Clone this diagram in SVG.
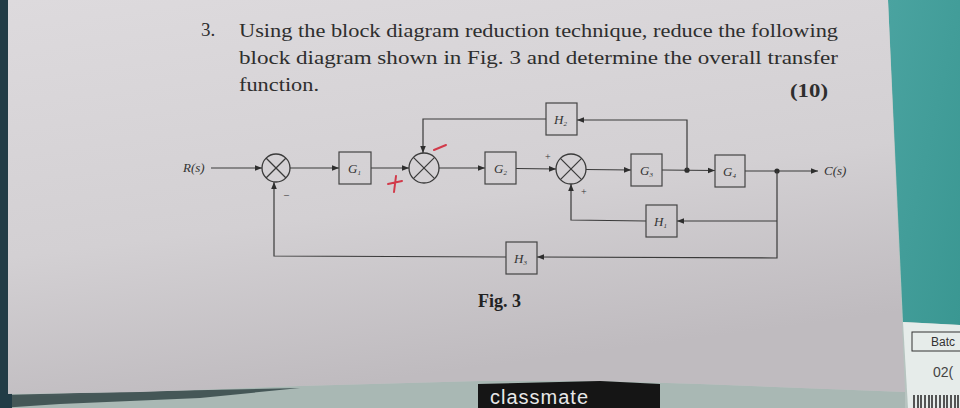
<svg xmlns="http://www.w3.org/2000/svg" width="960" height="408" viewBox="0 0 960 408">
<defs>
<linearGradient id="paper" x1="0" y1="0" x2="0.3" y2="1">
<stop offset="0" stop-color="#dddadd"/>
<stop offset="0.6" stop-color="#d3d0d3"/>
<stop offset="1" stop-color="#bfbbbf"/>
</linearGradient>
<linearGradient id="teal" x1="0" y1="0" x2="1" y2="1">
<stop offset="0" stop-color="#4aa3a0"/>
<stop offset="1" stop-color="#3a9792"/>
</linearGradient>
<marker id="ah" viewBox="0 0 10 10" refX="10" refY="5" markerWidth="7" markerHeight="7" orient="auto" markerUnits="userSpaceOnUse">
<path d="M0,1 L10,5 L0,9 z" fill="#2e2e2e"/>
</marker>
<style>
.ln{fill:none;stroke:#3a3a3a;stroke-width:1.2}
.blk{fill:none;stroke:#444;stroke-width:1.2}
.sum circle{fill:none;stroke:#3a3a3a;stroke-width:1.3}
.sum line{stroke:#3a3a3a;stroke-width:1.2}
.lbl{font-family:"Liberation Serif",serif;font-style:italic;font-size:13px;fill:#333}
.sub{font-size:7px}
.q{font-family:"Liberation Serif",serif;font-size:19px;fill:#2e2e2e}
.sg{font-family:"Liberation Serif",serif;font-size:10px;fill:#333}
.red{stroke:#d23a4a;stroke-width:2;fill:none;stroke-linecap:round}
</style>
</defs>

<!-- background scene -->
<rect x="0" y="0" width="960" height="408" fill="#b7c4c0"/>
<polygon points="0,395 60,396 140,392 300,386 480,381 600,381 700,384 905,392 905,408 0,408" fill="#a9b8b4"/>
<polygon points="0,395 160,391 300,388 200,398 60,404 0,408" fill="#2c3e40" opacity="0.8"/>
<rect x="0" y="0" width="12" height="408" fill="#223c46"/>
<polygon points="888,0 960,0 960,325 903,322" fill="url(#teal)"/>
<polygon points="903,322 960,325 960,408 908,408" fill="#e6ecea"/>
<rect x="912" y="332" width="52" height="19" fill="none" stroke="#333" stroke-width="1"/>
<text x="931" y="346" font-family="Liberation Sans, sans-serif" font-size="12" fill="#333">Batc</text>
<text x="933" y="377" font-family="Liberation Sans, sans-serif" font-size="14" fill="#444">02(</text>
<g stroke="#222" stroke-width="1.5">
<line x1="914" y1="395" x2="914" y2="408"/><line x1="918" y1="395" x2="918" y2="408"/><line x1="921" y1="395" x2="921" y2="408"/><line x1="925" y1="395" x2="925" y2="408"/><line x1="929" y1="395" x2="929" y2="408"/><line x1="932" y1="395" x2="932" y2="408"/><line x1="936" y1="395" x2="936" y2="408"/><line x1="940" y1="395" x2="940" y2="408"/><line x1="944" y1="395" x2="944" y2="408"/><line x1="947" y1="395" x2="947" y2="408"/><line x1="951" y1="395" x2="951" y2="408"/><line x1="955" y1="395" x2="955" y2="408"/><line x1="958" y1="395" x2="958" y2="408"/>
</g>
<polygon points="8,0 888,0 905,392 700,384 600,381 480,381 300,386 140,392 8,394" fill="url(#paper)"/>
<polygon points="478,384 600,381 660,384 660,408 478,408" fill="#151515"/>
<text x="490" y="404" font-family="Liberation Sans, sans-serif" font-size="20" fill="#e8e8e8" letter-spacing="1">classmate</text>

<!-- question text -->
<g id="question">
<text class="q" x="201" y="36">3.</text>
<text class="q" x="239" y="37" textLength="599" lengthAdjust="spacingAndGlyphs">Using the block diagram reduction technique, reduce the following</text>
<text class="q" x="239" y="64" textLength="599" lengthAdjust="spacingAndGlyphs">block diagram shown in Fig. 3 and determine the overall transfer</text>
<text class="q" x="239" y="91" textLength="80" lengthAdjust="spacingAndGlyphs">function.</text>
<text class="q" x="790" y="97" font-weight="bold" textLength="38" lengthAdjust="spacingAndGlyphs">(10)</text>
</g>

<g id="connectors">
<line class="ln" x1="211" y1="168" x2="262" y2="168" marker-end="url(#ah)"/>
<line class="ln" x1="290" y1="168" x2="339" y2="168" marker-end="url(#ah)"/>
<line class="ln" x1="371" y1="168" x2="409" y2="168" marker-end="url(#ah)"/>
<line class="ln" x1="439" y1="168" x2="485" y2="168" marker-end="url(#ah)"/>
<line class="ln" x1="516" y1="168.5" x2="556" y2="169" marker-end="url(#ah)"/>
<line class="ln" x1="586" y1="169.5" x2="631" y2="170" marker-end="url(#ah)"/>
<line class="ln" x1="662" y1="170" x2="715" y2="170.5" marker-end="url(#ah)"/>
<line class="ln" x1="745" y1="171" x2="818" y2="171" marker-end="url(#ah)"/>
<circle cx="687" cy="170.2" r="2.6" fill="#2e2e2e"/>
<circle cx="777" cy="171" r="2.6" fill="#2e2e2e"/>
<polyline class="ln" points="687,170 687,120 577,120" marker-end="url(#ah)"/>
<polyline class="ln" points="546,119 423,119 423,153" marker-end="url(#ah)"/>
<polyline class="ln" points="777,171 777,258 537,257" marker-end="url(#ah)"/>
<line class="ln" x1="777" y1="221" x2="677" y2="221" marker-end="url(#ah)"/>
<polyline class="ln" points="646,221 571,220 571,184" marker-end="url(#ah)"/>
<polyline class="ln" points="506,257 274,256 274,182" marker-end="url(#ah)"/>
</g>

<text class="lbl" x="183" y="172" font-size="11">R(s)</text>
<text class="lbl" x="824" y="175" font-size="11">C(s)</text>

<g id="S1" class="sum"><circle cx="276" cy="168" r="14"/><line x1="266" y1="158" x2="286" y2="178"/><line x1="286" y1="158" x2="266" y2="178"/></g>
<g id="S2" class="sum"><circle cx="424" cy="168" r="15"/><line x1="413.4" y1="157.4" x2="434.6" y2="178.6"/><line x1="434.6" y1="157.4" x2="413.4" y2="178.6"/></g>
<g id="S3" class="sum"><circle cx="571" cy="169" r="15"/><line x1="560.4" y1="158.4" x2="581.6" y2="179.6"/><line x1="581.6" y1="158.4" x2="560.4" y2="179.6"/></g>

<g id="G1"><rect class="blk" x="339" y="152" width="32" height="32"/><text class="lbl" x="348" y="173">G<tspan class="sub" dy="2">1</tspan></text></g>
<g id="G2"><rect class="blk" x="485" y="152" width="31" height="32"/><text class="lbl" x="494" y="173">G<tspan class="sub" dy="2">2</tspan></text></g>
<g id="G3"><rect class="blk" x="631" y="154" width="31" height="32"/><text class="lbl" x="640" y="175">G<tspan class="sub" dy="2">3</tspan></text></g>
<g id="G4"><rect class="blk" x="715" y="155" width="30" height="32"/><text class="lbl" x="723" y="176">G<tspan class="sub" dy="2">4</tspan></text></g>
<g id="H2"><rect class="blk" x="546" y="103" width="31" height="32"/><text class="lbl" x="554" y="124">H<tspan class="sub" dy="2">2</tspan></text></g>
<g id="H1"><rect class="blk" x="646" y="205" width="31" height="32"/><text class="lbl" x="654" y="226">H<tspan class="sub" dy="2">1</tspan></text></g>
<g id="H3"><rect class="blk" x="506" y="242" width="31" height="32"/><text class="lbl" x="514" y="263">H<tspan class="sub" dy="2">3</tspan></text></g>

<text class="sg" x="284" y="198">–</text>
<text class="sg" x="545" y="160">+</text>
<text class="sg" x="581" y="195">+</text>
<path class="red" d="M388,184 L402,181 M396,176 L394,192"/>
<path class="red" d="M434,150 L446,145"/>

<text x="478" y="307" font-family="Liberation Serif, serif" font-weight="bold" font-size="18" fill="#222">Fig. 3</text>
</svg>
